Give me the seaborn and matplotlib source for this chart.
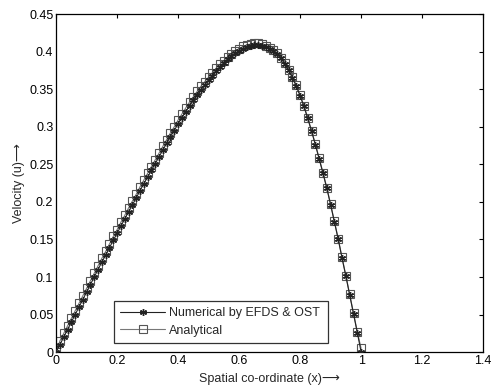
import numpy as np
import pandas as pd
import matplotlib
matplotlib.use("Agg")
import matplotlib.pyplot as plt
import seaborn as sns

# grid x = 0 : 0.0125 : 1 (81 nodes)
x_nodes = np.linspace(0.0, 1.0, 81)

# values
u_numerical = [
    0.000, 0.010, 0.020, 0.030, 0.040, 0.050, 0.060, 0.070, 0.080, 0.090,
    0.100, 0.110, 0.120, 0.129, 0.139, 0.149, 0.158, 0.168, 0.177, 0.187,
    0.196, 0.205, 0.215, 0.224, 0.233, 0.242, 0.251, 0.260, 0.269, 0.278,
    0.287, 0.295, 0.304, 0.312, 0.320, 0.328, 0.335, 0.342, 0.349, 0.356,
    0.362, 0.368, 0.374, 0.380, 0.385, 0.390, 0.394, 0.398, 0.401, 0.404,
    0.406, 0.408, 0.409, 0.409, 0.408, 0.406, 0.404, 0.401, 0.397, 0.391,
    0.384, 0.375, 0.365, 0.354, 0.341, 0.327, 0.311, 0.294, 0.276, 0.257,
    0.238, 0.218, 0.196, 0.173, 0.150, 0.125, 0.101, 0.076, 0.051, 0.026,
    0.000,
]
u_analytical = [
    0.000, 0.015, 0.025, 0.035, 0.045, 0.055, 0.065, 0.075, 0.085, 0.095,
    0.105, 0.115, 0.125, 0.134, 0.144, 0.154, 0.163, 0.173, 0.182, 0.192,
    0.201, 0.210, 0.220, 0.229, 0.238, 0.247, 0.256, 0.265, 0.274, 0.283,
    0.292, 0.300, 0.309, 0.317, 0.325, 0.333, 0.340, 0.347, 0.354, 0.360,
    0.366, 0.372, 0.378, 0.383, 0.388, 0.393, 0.397, 0.401, 0.404, 0.407,
    0.409, 0.410, 0.411, 0.411, 0.410, 0.408, 0.405, 0.402, 0.398, 0.392,
    0.385, 0.376, 0.366, 0.355, 0.342, 0.328, 0.312, 0.295, 0.277, 0.258,
    0.239, 0.219, 0.197, 0.174, 0.151, 0.126, 0.102, 0.077, 0.052, 0.027,
    0.005,
]

x_ticks = [0, 0.2, 0.4, 0.6, 0.8, 1, 1.2, 1.4]
x_tick_labels = ["0", "0.2", "0.4", "0.6", "0.8", "1", "1.2", "1.4"]
y_ticks = [0, 0.05, 0.1, 0.15, 0.2, 0.25, 0.3, 0.35, 0.4, 0.45]
y_tick_labels = ["0", "0.05", "0.1", "0.15", "0.2", "0.25", "0.3", "0.35", "0.4", "0.45"]

sns.set_style("white")
plt.rcParams['font.family'] = ['Liberation Sans', 'DejaVu Sans']
plt.rcParams['font.size'] = 9

fig = plt.figure(figsize=(4.92, 3.90), dpi=100)
ax = fig.add_axes([0.114, 0.097, 0.868, 0.867])

# analytical: grey squares
sns.lineplot(x=x_nodes, y=u_analytical, ax=ax, color="#777777", linewidth=0.8,
             marker="s", markersize=5.5, markerfacecolor="none",
             markeredgecolor="#555555", markeredgewidth=0.8,
             label="Analytical", zorder=2)
# numerical: dark asterisks
sns.lineplot(x=x_nodes, y=u_numerical, ax=ax, color="#222222", linewidth=0.8,
             marker=(6, 2, 0), markersize=5, markeredgecolor="#222222",
             markeredgewidth=1.0, label="Numerical by EFDS & OST", zorder=3)

ax.set_xlim(0, 1.4)
ax.set_ylim(0, 0.45)
ax.set_xticks(x_ticks)
ax.set_xticklabels(x_tick_labels)
ax.set_yticks(y_ticks)
ax.set_yticklabels(y_tick_labels)
ax.tick_params(direction="in", length=3, width=0.8, top=True, right=True,
               labelsize=9, colors="black", pad=2)
for s in ax.spines.values():
    s.set_color("black")
    s.set_linewidth(0.9)

ax.set_xlabel("Spatial co-ordinate (x)\u27f6", fontsize=9, labelpad=4)
ax.set_ylabel("Velocity (u)\u27f6", fontsize=9, labelpad=3)

handles, labels = ax.get_legend_handles_labels()
leg = ax.legend(handles[::-1], labels[::-1], loc="lower left",
                bbox_to_anchor=(0.136, 0.027, 0.501, 0.121), mode="expand",
                fancybox=False, frameon=True, edgecolor="black",
                handlelength=3.6, borderaxespad=0, fontsize=9,
                labelspacing=0.45, handletextpad=0.3, borderpad=0.5)
leg.get_frame().set_linewidth(0.9)

fig.savefig("out.png", dpi=100)
